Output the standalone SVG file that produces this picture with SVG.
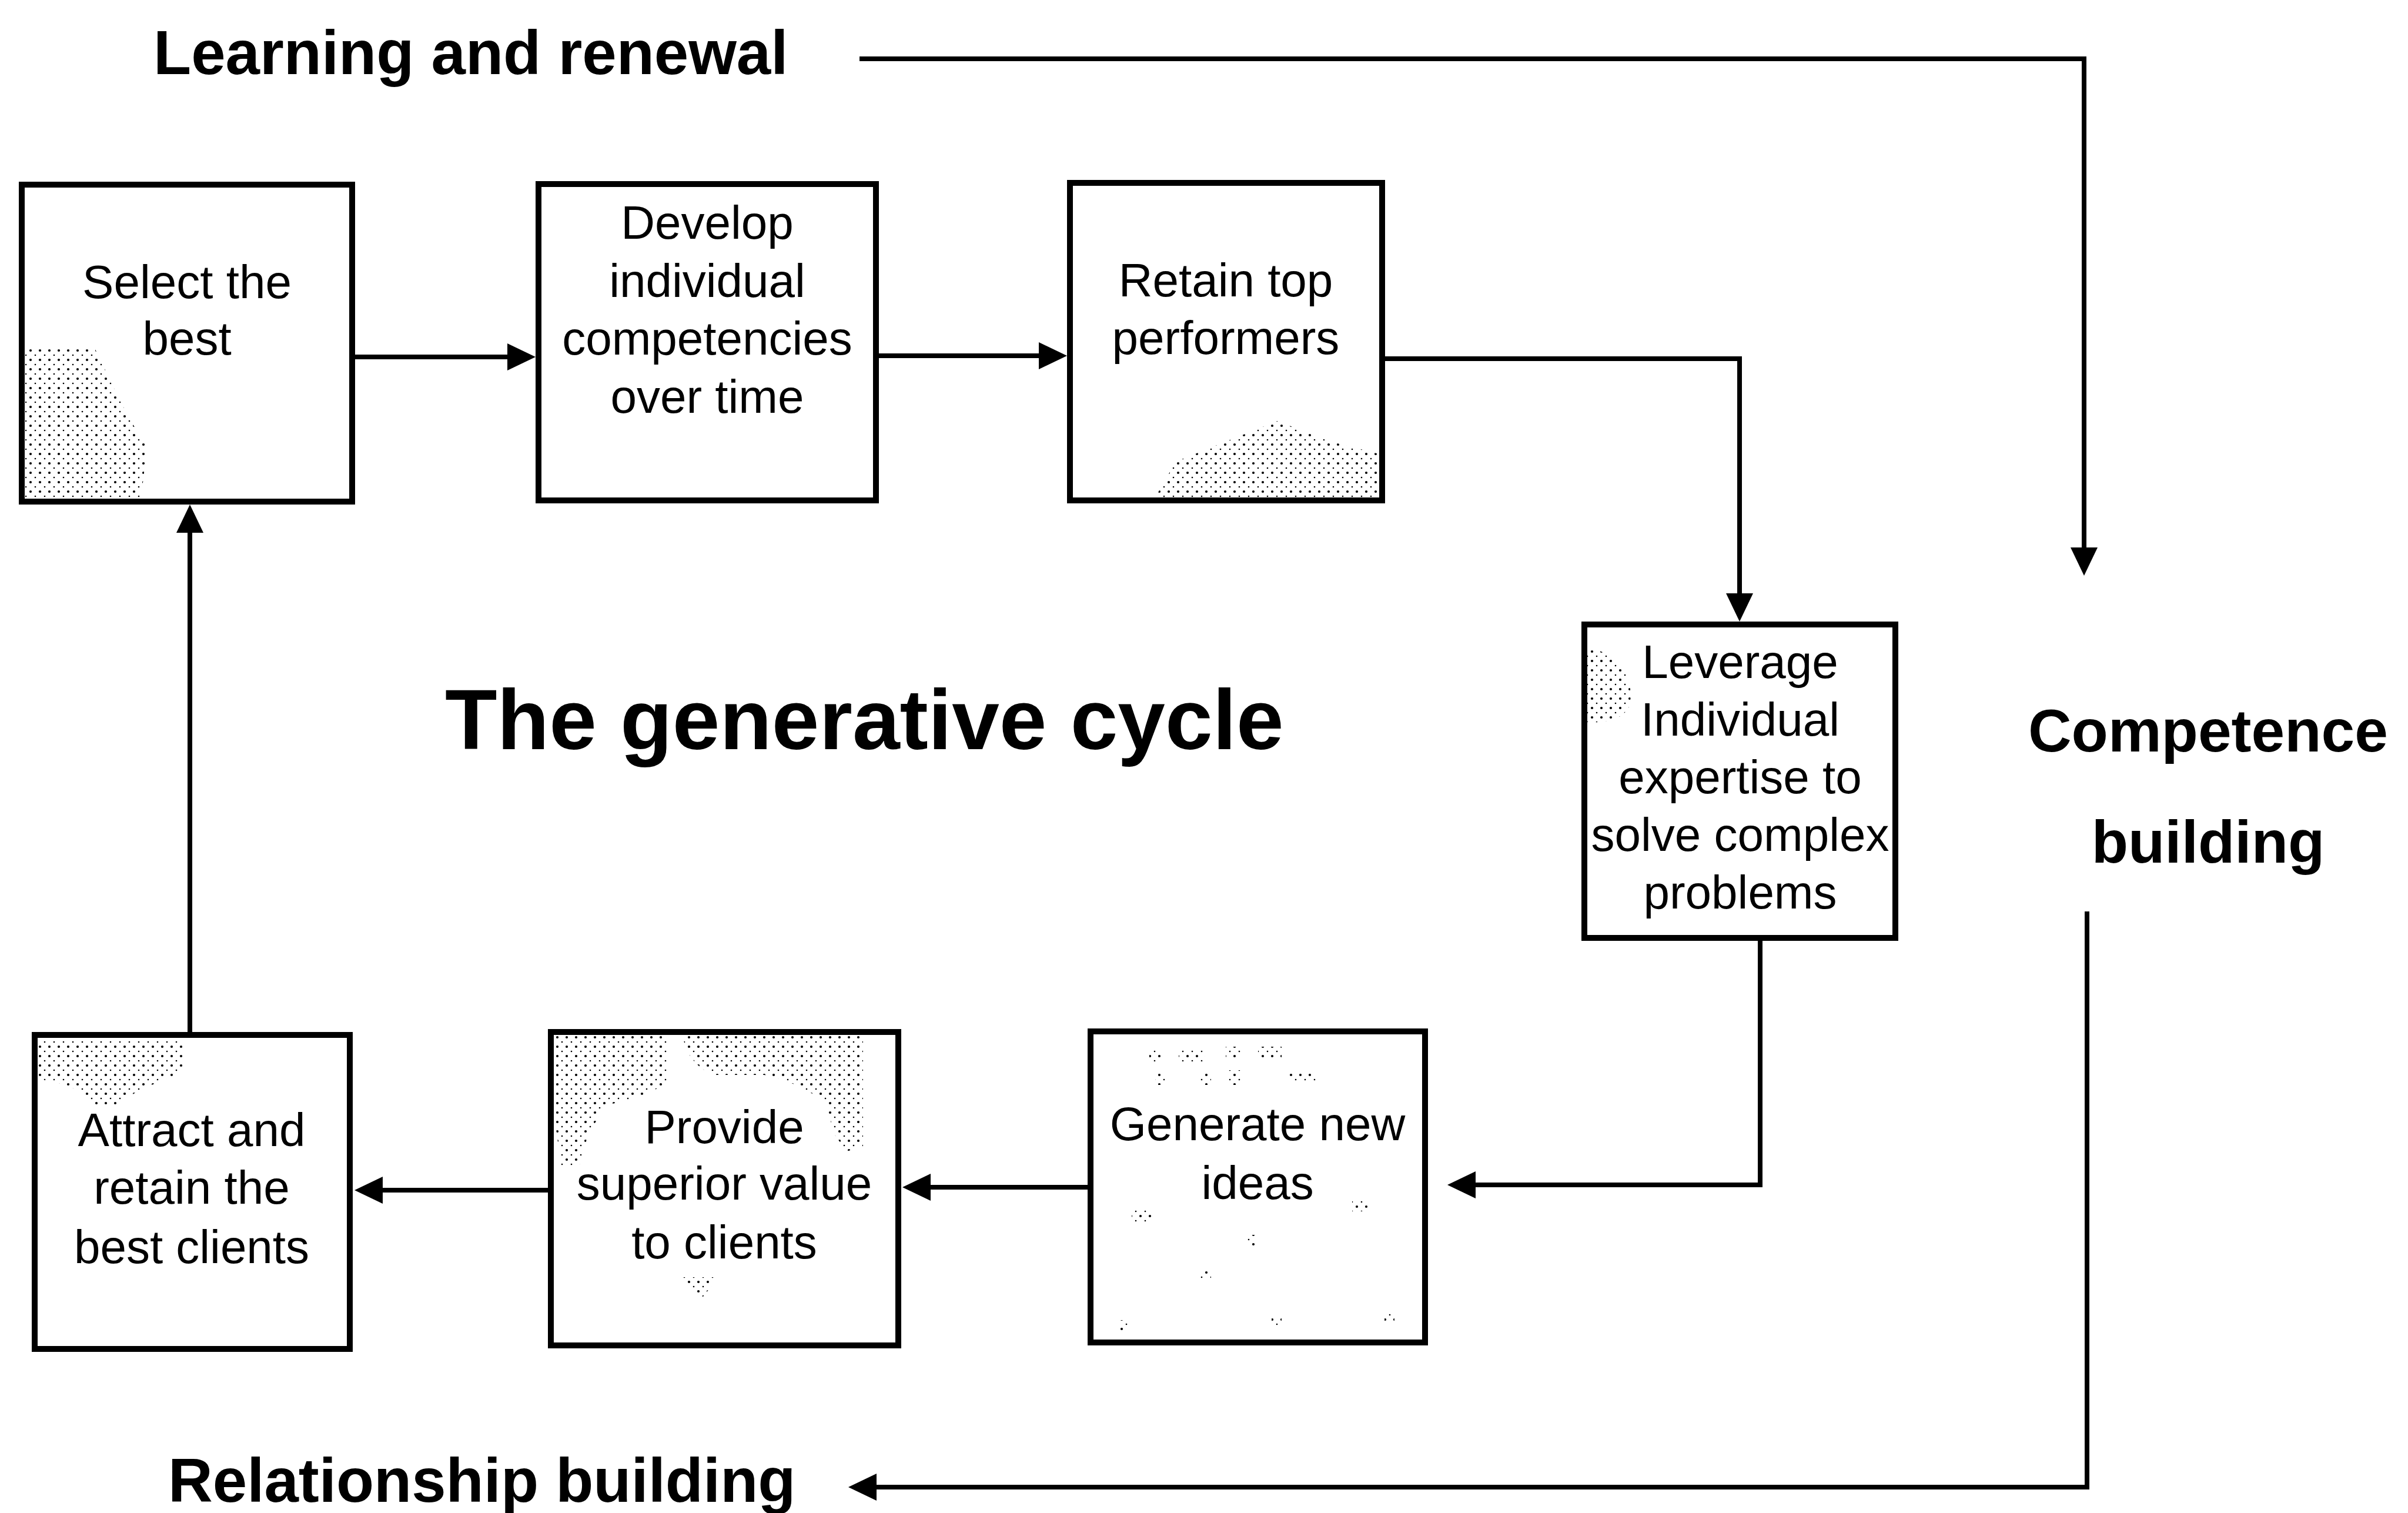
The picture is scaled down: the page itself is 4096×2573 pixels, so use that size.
<svg xmlns="http://www.w3.org/2000/svg" width="4096" height="2573" viewBox="0 0 4096 2573">
<style>
  .box { fill: #ffffff; stroke: #000000; stroke-width: 10; }
  .lbl { font-family: "Liberation Sans", Arial, sans-serif; font-size: 80px; fill: #000000; text-anchor: middle; }
  .head { font-family: "Liberation Sans", Arial, sans-serif; font-weight: bold; fill: #000000; }
  .conn { fill: none; stroke: #000000; stroke-width: 8; stroke-linejoin: miter; marker-end: url(#arrow); }
  .dots { fill: url(#halftone); stroke: none; }
</style>
<defs>
  <marker id="arrow" viewBox="0 0 48 46" markerWidth="48" markerHeight="46" refX="28" refY="23" orient="auto" markerUnits="userSpaceOnUse">
    <path d="M0,0 L48,23 L0,46 Z" fill="#000000"/>
  </marker>
  <pattern id="halftone" width="16" height="16" patternUnits="userSpaceOnUse">
    <circle cx="4" cy="4" r="2.1" fill="#000000"/>
    <circle cx="12" cy="12" r="1.3" fill="#000000"/>
  </pattern>
</defs>
<rect x="0" y="0" width="4096" height="2573" fill="#ffffff"/>

<g id="connectors">
  <path class="conn" d="M604,607 H891"/>
  <path class="conn" d="M1495,605 H1795"/>
  <path class="conn" d="M2356,610 H2959 V1037"/>
  <path class="conn" d="M2994,1600 V2015 H2482"/>
  <path class="conn" d="M1850,2019 H1555"/>
  <path class="conn" d="M932,2024 H623"/>
  <path class="conn" d="M323,1755 V878"/>
  <path class="conn" d="M1462,100 H3545 V959"/>
  <path class="conn" d="M3550,1550 V2529 H1463"/>
</g>

<g id="node-select">
  <rect class="box" x="37" y="314" width="562" height="539"/>
  <path class="dots" d="M43,590 H160 C185,640 210,700 250,760 L240,847 H43 Z"/>
  <text class="lbl" x="318" y="507">Select the</text>
  <text class="lbl" x="318" y="603">best</text>
</g>

<g id="node-develop">
  <rect class="box" x="916" y="313" width="574" height="538"/>
  <text class="lbl" x="1203" y="406">Develop</text>
  <text class="lbl" x="1203" y="505">individual</text>
  <text class="lbl" x="1203" y="603">competencies</text>
  <text class="lbl" x="1203" y="702">over time</text>
</g>

<g id="node-retain">
  <rect class="box" x="1820" y="311" width="531" height="540"/>
  <path class="dots" d="M1965,846 L2000,785 L2100,745 L2173,716 L2260,750 L2346,772 V846 Z"/>
  <text class="lbl" x="2085" y="504">Retain top</text>
  <text class="lbl" x="2085" y="602">performers</text>
</g>

<g id="node-leverage">
  <rect class="box" x="2695" y="1062" width="529" height="533"/>
  <path class="dots" d="M2700,1102 C2760,1110 2780,1160 2772,1200 C2760,1225 2730,1230 2700,1228 Z"/>
  <text class="lbl" x="2960" y="1153">Leverage</text>
  <text class="lbl" x="2960" y="1251">Individual</text>
  <text class="lbl" x="2960" y="1349">expertise to</text>
  <text class="lbl" x="2960" y="1447">solve complex</text>
  <text class="lbl" x="2960" y="1545">problems</text>
</g>

<g id="node-generate">
  <rect class="box" x="1855" y="1754" width="569" height="529"/>
  <path class="dots" d="M1955,1785 H1975 V1805 H1955 Z M2005,1785 H2050 V1805 H2005 Z M2085,1780 H2110 V1800 H2085 Z M2140,1780 H2180 V1800 H2140 Z"/>
  <path class="dots" d="M1965,1825 H1985 V1845 H1965 Z M2040,1825 H2060 V1845 H2040 Z M2090,1820 H2110 V1845 H2090 Z M2190,1822 H2240 V1840 H2190 Z"/>
  <path class="dots" d="M1925,2058 H1960 V2078 H1925 Z"/>
  <path class="dots" d="M2300,2040 H2330 V2060 H2300 Z"/>
  <path class="dots" d="M2042,2160 H2060 V2178 H2042 Z"/>
  <path class="dots" d="M2120,2100 H2138 V2118 H2120 Z"/>
  <path class="dots" d="M1905,2245 H1920 V2262 H1905 Z M2163,2238 H2180 V2255 H2163 Z M2355,2230 H2372 V2248 H2355 Z"/>
  <text class="lbl" x="2139" y="1939">Generate new</text>
  <text class="lbl" x="2139" y="2039">ideas</text>
</g>

<g id="node-provide">
  <rect class="box" x="937" y="1755" width="591" height="533"/>
  <path class="dots" d="M943,1762 H1135 V1840 C1110,1860 1070,1870 1030,1880 L1000,1930 L985,1985 L955,1985 L943,1900 Z"/>
  <path class="dots" d="M1162,1762 H1468 V1950 L1440,1958 L1420,1930 L1405,1880 C1380,1850 1330,1835 1300,1828 L1210,1828 C1180,1810 1165,1790 1162,1762 Z"/>
  <path class="dots" d="M1158,2172 H1222 L1192,2210 Z"/>
  <text class="lbl" x="1232" y="1944">Provide</text>
  <text class="lbl" x="1232" y="2040">superior value</text>
  <text class="lbl" x="1232" y="2140">to clients</text>
</g>

<g id="node-attract">
  <rect class="box" x="59" y="1760" width="536" height="534"/>
  <path class="dots" d="M65,1766 H312 V1820 C280,1840 230,1850 200,1880 L160,1880 C140,1850 100,1840 65,1835 Z"/>
  <text class="lbl" x="326" y="1949">Attract and</text>
  <text class="lbl" x="326" y="2047">retain the</text>
  <text class="lbl" x="326" y="2148">best clients</text>
</g>

<g id="labels">
  <text class="head" x="261" y="126" font-size="105">Learning and renewal</text>
  <text class="head" x="757" y="1274" font-size="145">The generative cycle</text>
  <text class="head" x="3756" y="1278" font-size="102" text-anchor="middle">Competence</text>
  <text class="head" x="3756" y="1467" font-size="102" text-anchor="middle">building</text>
  <text class="head" x="286" y="2554" font-size="105">Relationship building</text>
</g>
</svg>
